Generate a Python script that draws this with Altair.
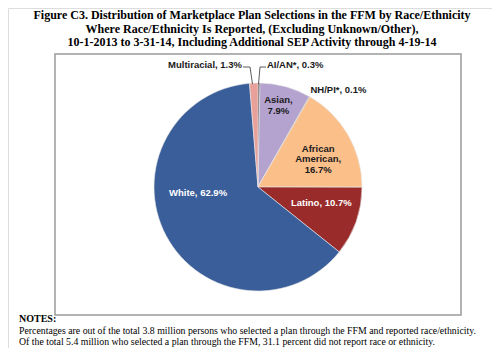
import math
import altair as alt
import pandas as pd

# ---- data ----
categories = ["AI/AN*", "Asian", "NH/PI*", "African American", "Latino", "White", "Multiracial"]
values = [0.3, 7.9, 0.1, 16.7, 10.7, 62.9, 1.3]
colors = ["#3a3a3a", "#b4a2cf", "#5e4c3c", "#fbbf8a", "#9a2b2b", "#3a5e9a", "#e8a09a"]
title_lines = [
    "Figure C3. Distribution of Marketplace Plan Selections in the FFM by Race/Ethnicity",
    "Where Race/Ethnicity Is Reported, (Excluding Unknown/Other),",
    "10-1-2013 to 3-31-14, Including Additional SEP Activity through 4-19-14",
]
notes_title = "NOTES:"
notes_lines = [
    "Percentages are out of the total 3.8 million persons who selected a plan through the FFM and reported race/ethnicity.",
    "Of the total 5.4 million who selected a plan through the FFM, 31.1 percent did not report race or ethnicity.",
]
label_breaks = {"African American": "African\nAmerican,\n", "Asian": "Asian,\n"}

# ---- table built from the lists ----
total = sum(values)
cum = []
run = 0.0
for v in values:
    cum.append(run + v / 2)
    run += v
labels = [
    (label_breaks[c] + f"{v}%") if c in label_breaks else f"{c}, {v}%"
    for c, v in zip(categories, values)
]
df = pd.DataFrame({"cat": categories, "value": values, "order": list(range(len(values))),
                   "mid": cum, "label": labels})

CX, CY, R = 250, 179, 104
W, H = 484, 340
theta_scale = alt.Scale(domain=[0, total], range=[0, 2 * math.pi])

base = alt.Chart(df)

pie = base.mark_arc(outerRadius=R, stroke="#e8e8e8", strokeWidth=0.6).encode(
    theta=alt.Theta("value:Q", stack=True, scale=theta_scale),
    color=alt.Color("cat:N", scale=alt.Scale(domain=categories, range=colors), legend=None),
    order=alt.Order("order:Q"),
    x=alt.value(CX),
    y=alt.value(CY),
)

# label styling: (radius, dx, dy, color)
label_style = {
    "White": (60, -7, -22, "white"),
    "Latino": (66, 1, -6, "white"),
    "African American": (66, 3, -5.5, "#1a1a1a"),
    "Asian": (85, -2, -5, "#1a1a1a"),
    "NH/PI*": (126, 18, 12, "#1a1a1a"),
    "AI/AN*": (122, 36, 0, "#1a1a1a"),
    "Multiracial": (122, -48, 0, "#1a1a1a"),
}

label_layers = []
for cat, (r, dx, dy, col) in label_style.items():
    label_layers.append(
        base.transform_filter(alt.datum.cat == cat)
        .mark_text(font="Liberation Sans", fontWeight="bold", fontSize=9.5,
                   lineBreak="\n", lineHeight=10.5, align="center", baseline="middle",
                   dx=dx, dy=dy, color=col)
        .encode(
            theta=alt.Theta("mid:Q", stack=None, scale=theta_scale),
            radius=alt.value(r),
            x=alt.value(CX),
            y=alt.value(CY),
            text="label:N",
        )
    )

one = alt.Chart(pd.DataFrame({"k": [0]}))

def seg(x1, y1, x2, y2):
    return one.mark_rule(color="#333333", strokeWidth=0.8).encode(
        x=alt.value(x1), y=alt.value(y1), x2=alt.value(x2), y2=alt.value(y2))

leaders = [
    seg(235, 59, 242, 59), seg(242, 59, 244.5, 76),
    seg(250.5, 76, 252, 59), seg(252, 59, 258, 59),
]

frame = one.mark_rect(fill="white", stroke="#9a9a9a", strokeWidth=1.5).encode(
    x=alt.value(47), y=alt.value(46), x2=alt.value(453), y2=alt.value(307))

title = one.mark_text(font="Liberation Serif", fontWeight="bold", fontSize=12,
                      lineBreak="\n", lineHeight=13.5, align="center", baseline="top",
                      color="#000000").encode(
    x=alt.value(244), y=alt.value(2), text=alt.value("\n".join(title_lines)))

notes_head = one.mark_text(font="Liberation Serif", fontWeight="bold", fontSize=10,
                           align="left", baseline="middle", color="#000000").encode(
    x=alt.value(11), y=alt.value(311), text=alt.value(notes_title))

notes = one.mark_text(font="Liberation Serif", fontSize=9.8, lineBreak="\n", lineHeight=11,
                      align="left", baseline="middle", color="#000000").encode(
    x=alt.value(11), y=alt.value(322.5), text=alt.value("\n".join(notes_lines)))

chart = alt.layer(frame, pie, *label_layers, *leaders, title, notes_head, notes).properties(
    width=W, height=H, padding=0, autosize="none",
).configure_view(stroke=None).configure(background="white")

chart.save("out.html", embed_options={"renderer": "svg", "actions": False})
